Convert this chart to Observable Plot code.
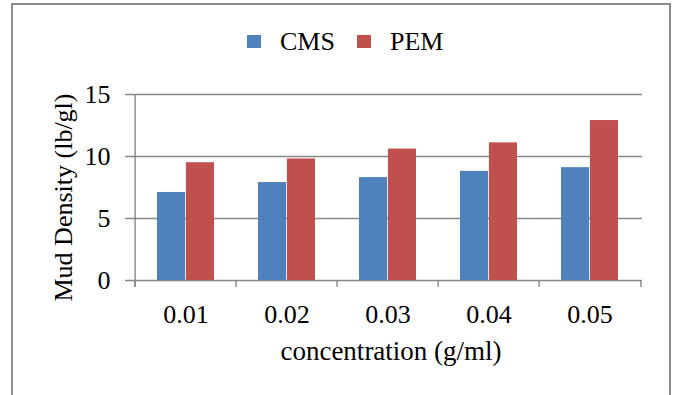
<!DOCTYPE html>
<html>
<head>
<meta charset="utf-8">
<script src="https://cdn.jsdelivr.net/npm/d3@7"></script>
<script src="https://cdn.jsdelivr.net/npm/@observablehq/plot@0.6"></script>
<style>
  html, body { margin: 0; padding: 0; background: #fff; }
  #wrap { position: relative; width: 674px; height: 395px; overflow: hidden; font-family: "Liberation Serif", "Times New Roman", serif; }
  #border { position: absolute; left: 11px; top: 3px; width: 656px; height: 430px; border: 2px solid #8c8c8c; }
  #legend { position: absolute; left: 247px; top: 28px; height: 27px; display: flex; align-items: center; font-size: 26px; line-height: 27px; color: #000; }
  #legend .sw { width: 14px; height: 13px; margin-right: 19px; }
  #legend .lab { margin-right: 22px; }
  #chart { position: absolute; left: 0; top: 0; }
</style>
</head>
<body>
<div id="wrap">
  <div id="border"></div>
  <div id="chart"></div>
  <div id="legend"></div>
</div>
<script>
// Mud density by polymer concentration
const concentrations = ["0.01", "0.02", "0.03", "0.04", "0.05"];
const cmsDensity = [7.1, 7.9, 8.3, 8.8, 9.1];
const pemDensity = [9.5, 9.8, 10.6, 11.1, 12.9];
const seriesNames = ["CMS", "PEM"];
const seriesColors = ["#4F81BD", "#C0504D"];
const yTicks = [0, 5, 10, 15];
const yTitle = "Mud Density (lb/gl)";
const xTitle = "concentration (g/ml)";

const rows = [];
concentrations.forEach((c, i) => {
  rows.push({conc: c, series: seriesNames[0], value: cmsDensity[i]});
  rows.push({conc: c, series: seriesNames[1], value: pemDensity[i]});
});

const W = 674, H = 395;
const mL = 133, mR = 32, mT = 94, mB = 115;
const band = (W - mL - mR) / concentrations.length;
const gap = 22; // space between band edge and outer bar edge
const axisGray = "#878787";
const font = "'Liberation Serif', 'Times New Roman', serif";

const chart = Plot.plot({
  width: W,
  height: H,
  marginLeft: mL,
  marginRight: mR,
  marginTop: mT,
  marginBottom: mB,
  style: {fontFamily: font, fontSize: "26px", color: "#000", background: "transparent"},
  x: {domain: concentrations, padding: 0, axis: null},
  y: {domain: [0, 15], axis: null},
  color: {domain: seriesNames, range: seriesColors},
  marks: [
    // horizontal gridlines with outward tick stubs
    Plot.ruleY(yTicks, {y: d => d, stroke: axisGray, strokeWidth: 1.4, insetLeft: -8}),
    // vertical axis line
    Plot.ruleX([concentrations[0]], {x: d => d, y1: 15, y2: 0, dx: -band / 2, insetBottom: -7, stroke: axisGray, strokeWidth: 1.4}),
    // category boundary ticks
    Plot.ruleX(concentrations, {x: d => d, y1: 0, y2: 0, dx: -band / 2, insetBottom: -7, stroke: axisGray, strokeWidth: 1.4}),
    Plot.ruleX([concentrations[concentrations.length - 1]], {x: d => d, y1: 0, y2: 0, dx: band / 2, insetBottom: -7, stroke: axisGray, strokeWidth: 1.4}),
    // bars
    Plot.barY(rows.filter(d => d.series === seriesNames[0]), {x: "conc", y: "value", fill: "series", insetLeft: gap, insetRight: band / 2}),
    Plot.barY(rows.filter(d => d.series === seriesNames[1]), {x: "conc", y: "value", fill: "series", insetLeft: band / 2, insetRight: gap}),
    // axes
    Plot.axisY(yTicks, {tickSize: 0, tickPadding: 23, fontSize: 26, fill: "#000", label: null}),
    Plot.axisX({tickSize: 0, tickPadding: 24, fontSize: 26, fill: "#000", label: null}),
    // axis titles
    Plot.text([yTitle], {text: d => d, frameAnchor: "left", textAnchor: "middle", rotate: -90, dx: -70, dy: 10, fontSize: 26, fill: "#000"}),
    Plot.text([xTitle], {text: d => d, frameAnchor: "bottom", textAnchor: "middle", dx: 3, dy: 79, fontSize: 27, fill: "#000"})
  ]
});
document.getElementById("chart").appendChild(chart);

// legend built from the chart's color scale
const color = chart.scale("color");
const legend = document.getElementById("legend");
color.domain.forEach((name, i) => {
  const sw = document.createElement("span");
  sw.className = "sw";
  sw.style.background = color.range[i];
  const lab = document.createElement("span");
  lab.className = "lab";
  lab.textContent = name;
  legend.appendChild(sw);
  legend.appendChild(lab);
});
</script>
</body>
</html>
